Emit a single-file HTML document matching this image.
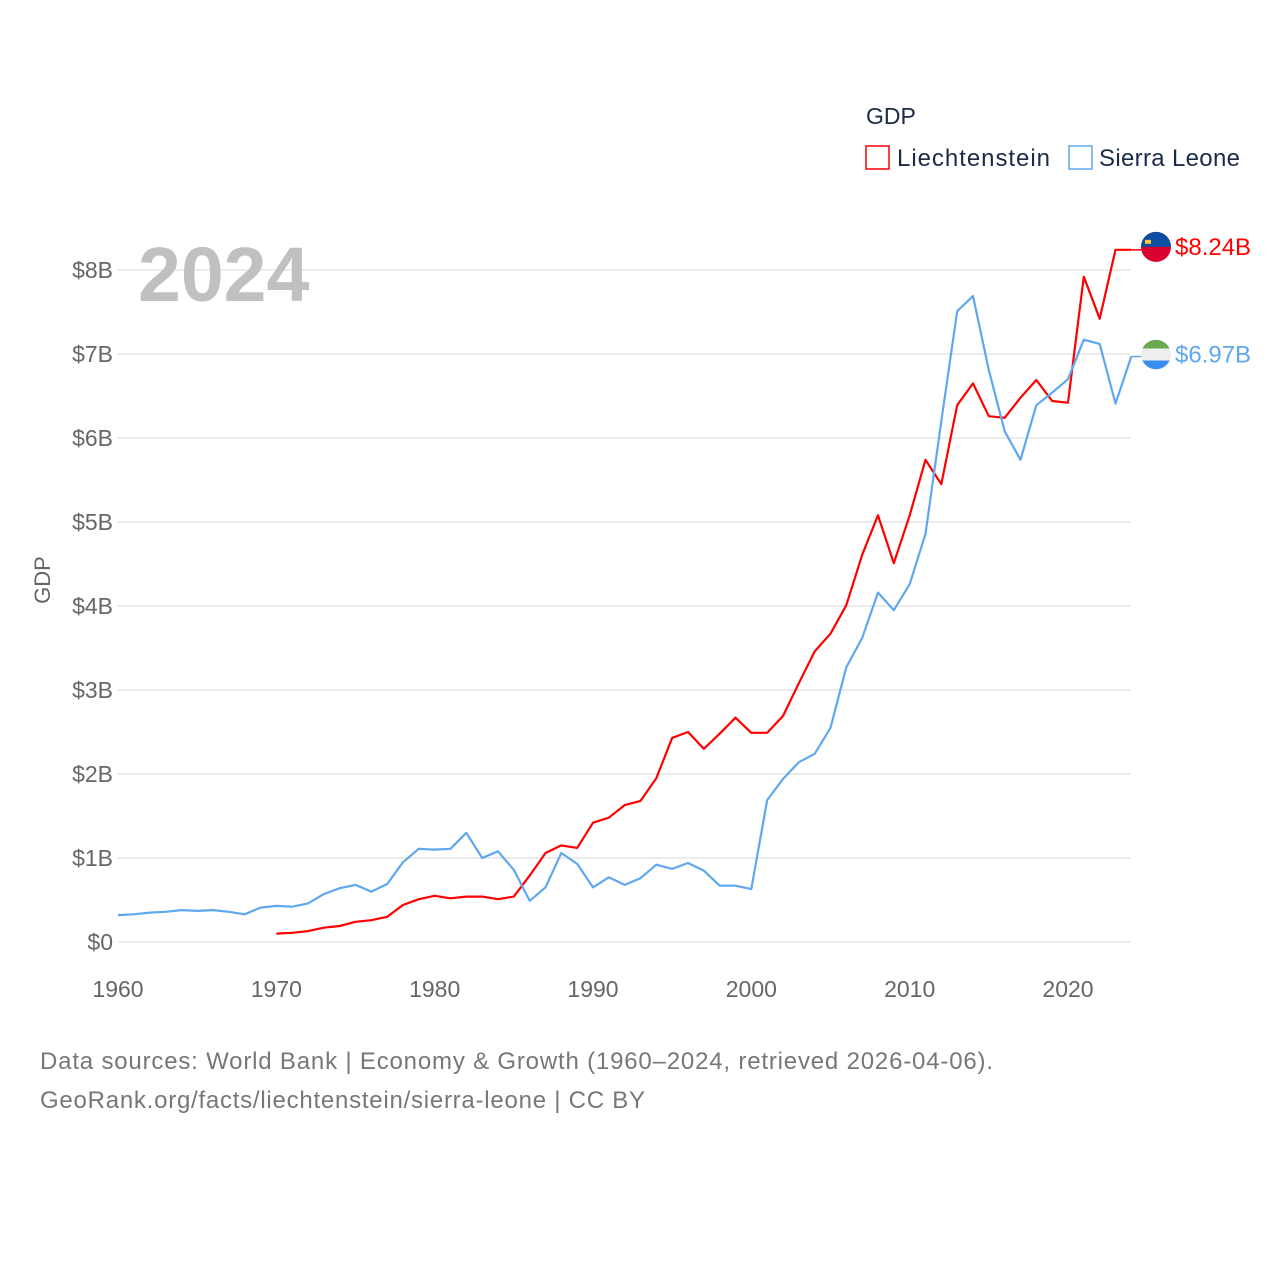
<!DOCTYPE html>
<html><head><meta charset="utf-8"><style>
html,body{margin:0;padding:0;background:#fff;}
body{width:1280px;height:1280px;position:relative;overflow:hidden;font-family:"Liberation Sans",sans-serif;}
</style></head><body>
<svg id="chart" width="1280" height="1280" xmlns="http://www.w3.org/2000/svg" font-family="Liberation Sans, sans-serif">
<g id="grid"></g>
<g id="yticks"></g>
<g id="xticks"></g>
<text x="138" y="301" font-size="77" font-weight="bold" fill="#c0c0c0">2024</text>
<text transform="translate(50,580) rotate(-90)" text-anchor="middle" font-size="22" fill="#666">GDP</text>
<g id="series"></g>
<g>
<text x="866" y="124" font-size="23" fill="#1b2a47">GDP</text>
<g>
<rect x="866" y="146" width="23" height="23" fill="none" stroke="#ff0000" stroke-width="1.5"/>
<text x="897" y="166" font-size="24" fill="#1b2a47" textLength="153">Liechtenstein</text></g>
<g>
<rect x="1069" y="146" width="23" height="23" fill="none" stroke="#5fa8ef" stroke-width="1.5"/>
<text x="1099" y="166" font-size="24" fill="#1b2a47" textLength="141">Sierra Leone</text></g>
</g>
<text x="40" y="1069" font-size="24" fill="#777" textLength="953">Data sources: World Bank | Economy &amp; Growth (1960–2024, retrieved 2026-04-06).</text>
<text x="40" y="1108" font-size="24" fill="#777" textLength="605">GeoRank.org/facts/liechtenstein/sierra-leone | CC BY</text>
</svg>
<script>
const yTicks=[0,1,2,3,4,5,6,7,8];
const yTickLabels=["$0","$1B","$2B","$3B","$4B","$5B","$6B","$7B","$8B"];
const xTicks=[1960,1970,1980,1990,2000,2010,2020];
const slYears=[];for(let y=1960;y<=2024;y++)slYears.push(y);
const slValues=[0.32,0.33,0.35,0.36,0.38,0.37,0.38,0.36,0.33,0.41,0.43,0.42,0.46,0.57,0.64,0.68,0.60,0.69,0.95,1.11,1.10,1.11,1.30,1.00,1.08,0.86,0.49,0.65,1.06,0.93,0.65,0.77,0.68,0.76,0.92,0.87,0.94,0.85,0.67,0.67,0.63,1.69,1.94,2.14,2.24,2.55,3.27,3.62,4.16,3.95,4.26,4.86,6.20,7.51,7.69,6.81,6.08,5.74,6.39,6.54,6.70,7.17,7.12,6.41,6.97];
const liYears=[];for(let y=1970;y<=2024;y++)liYears.push(y);
const liValues=[0.10,0.11,0.13,0.17,0.19,0.24,0.26,0.30,0.44,0.51,0.55,0.52,0.54,0.54,0.51,0.54,0.79,1.06,1.15,1.12,1.42,1.48,1.63,1.68,1.95,2.43,2.50,2.30,2.48,2.67,2.49,2.49,2.69,3.08,3.46,3.67,4.01,4.61,5.08,4.51,5.08,5.74,5.45,6.39,6.65,6.26,6.24,6.48,6.69,6.44,6.42,7.92,7.42,8.24,8.24];
const xS=y=>118+(y-1960)*950/60;
const yS=v=>942-v*84;
const NS="http://www.w3.org/2000/svg";
function mk(tag,attrs,parent){const e=document.createElementNS(NS,tag);for(const k in attrs)e.setAttribute(k,attrs[k]);parent.appendChild(e);return e;}
const grid=document.getElementById('grid'),yt=document.getElementById('yticks'),xt=document.getElementById('xticks'),ser=document.getElementById('series');
yTicks.forEach((v,i)=>{
 const l=mk('line',{x1:118,x2:1130,y1:yS(v),y2:yS(v),stroke:'#e6e6e6','stroke-width':1.5},grid);
 
 
 const t=mk('text',{x:113,y:yS(v)+8,'text-anchor':'end','font-size':23,fill:'#666'},yt);
 t.textContent=yTickLabels[i];
 
 
});
xTicks.forEach(y=>{
 const t=mk('text',{x:xS(y),y:997,'text-anchor':'middle','font-size':23,fill:'#666'},xt);
 t.textContent=y;
 
 
});
function line(years,vals,color,name){
 const d=years.map((y,i)=>(i?'L':'M')+xS(y).toFixed(1)+','+yS(vals[i]).toFixed(1)).join(' ');
 const p=mk('path',{d:d,fill:'none',stroke:color,'stroke-width':2.2,'stroke-linejoin':'round'},ser);
 
 
 const lv=vals[vals.length-1],ly=yS(lv),lx=xS(years[years.length-1]);
 const c=mk('line',{x1:lx,x2:1142,y1:ly,y2:ly,stroke:color,'stroke-width':1.5},ser);
 
 
 return ly;
}
const ly1=line(liYears,liValues,'#ff0000','liechtenstein-line');
const ly2=line(slYears,slValues,'#5fa8ef','sierra-leone-line');
const f1=mk('g',{},ser);


mk('circle',{cx:1156,cy:ly1-3,r:15,fill:'#d7002f'},f1);
mk('path',{d:`M1141,${ly1-3} A15,15 0 0 1 1171,${ly1-3} Z`,fill:'#0b4ea2'},f1);
mk('rect',{x:1145,y:ly1-10,width:6,height:4,fill:'#f5c842'},f1);
const f2=mk('g',{},ser);


mk('circle',{cx:1156,cy:ly2-2,r:15,fill:'#eeeeee'},f2);
mk('path',{d:`M1142.4,${ly2-8} A15,15 0 0 1 1169.6,${ly2-8} Z`,fill:'#6aa84f'},f2);
mk('path',{d:`M1142.4,${ly2+4} A15,15 0 0 0 1169.6,${ly2+4} Z`,fill:'#3a8ef0'},f2);
const t1=mk('text',{x:1175,y:ly1+5,'font-size':24,fill:'#ff0000'},ser);
t1.textContent='$'+liValues[liValues.length-1].toFixed(2)+'B';


const t2=mk('text',{x:1175,y:ly2+6,'font-size':24,fill:'#5fa8ef'},ser);
t2.textContent='$'+slValues[slValues.length-1].toFixed(2)+'B';


</script>
</body></html>
